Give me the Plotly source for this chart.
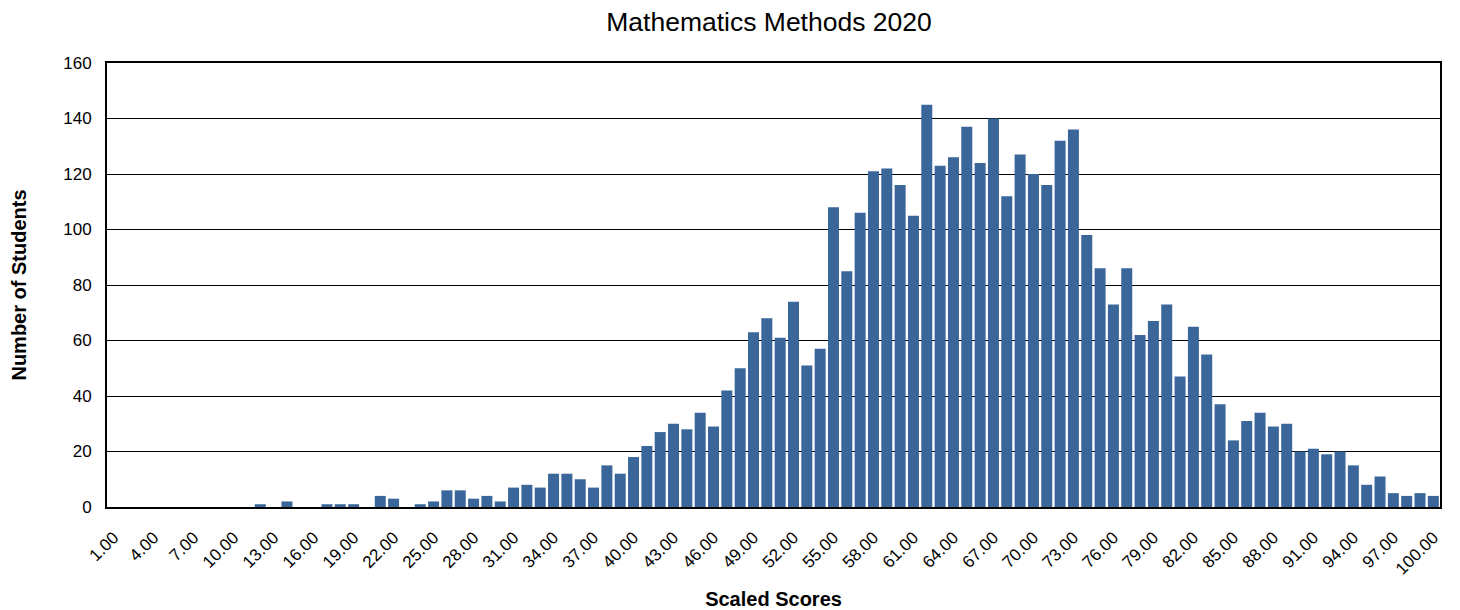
import plotly.graph_objects as go

scores = list(range(1, 101))
students = [
    0, 0, 0, 0, 0, 0, 0, 0, 0, 0,
    0, 1, 0, 2, 0, 0, 1, 1, 1, 0,
    4, 3, 0, 1, 2, 6, 6, 3, 4, 2,
    7, 8, 7, 12, 12, 10, 7, 15, 12, 18,
    22, 27, 30, 28, 34, 29, 42, 50, 63, 68,
    61, 74, 51, 57, 108, 85, 106, 121, 122, 116,
    105, 145, 123, 126, 137, 124, 140, 112, 127, 120,
    116, 132, 136, 98, 86, 73, 86, 62, 67, 73,
    47, 65, 55, 37, 24, 31, 34, 29, 30, 20,
    21, 19, 20, 15, 8, 11, 5, 4, 5, 4,
]
tick_scores = [1, 4, 7, 10, 13, 16, 19, 22, 25, 28, 31, 34, 37, 40, 43, 46, 49,
               52, 55, 58, 61, 64, 67, 70, 73, 76, 79, 82, 85, 88, 91, 94, 97, 100]
tick_labels = [f"{v:.2f}" for v in tick_scores]
y_ticks = [0, 20, 40, 60, 80, 100, 120, 140, 160]

FONT = "Liberation Sans, Arial, sans-serif"

fig = go.Figure(
    go.Bar(
        x=scores,
        y=students,
        marker=dict(color="#3a6699", line=dict(width=0)),
    )
)

# page body has an 8px margin, so the figure is 8px smaller and shifted
fig.update_layout(
    width=1452,
    height=602,
    margin=dict(l=99, r=20, t=55, b=103, autoexpand=False),
    paper_bgcolor="white",
    plot_bgcolor="white",
    bargap=0.175,
    showlegend=False,
    font=dict(family=FONT, color="#000000"),
    title=dict(
        text="Mathematics Methods 2020",
        x=(769 - 8) / 1452, xanchor="center",
        y=1 - 4 / 602, yref="container", yanchor="top",
        pad=dict(t=0, b=0),
        font=dict(size=26.5, family=FONT, color="#000000"),
    ),
)

fig.update_xaxes(
    range=[0.5, 100.5],
    tickmode="array",
    tickvals=tick_scores,
    ticktext=tick_labels,
    tickangle=-45,
    tickfont=dict(size=17, family=FONT, color="#000000"),
    showgrid=False,
    zeroline=False,
    showline=True,
    linecolor="#000000",
    linewidth=2,
    mirror=True,
    ticks="",
    automargin=False,
    ticklabelstandoff=12,
    title=dict(
        text="<b>Scaled Scores</b>",
        font=dict(size=20, family=FONT, color="#000000"),
        standoff=18,
    ),
)

fig.update_yaxes(
    range=[0, 160],
    tickmode="array",
    tickvals=y_ticks,
    tickfont=dict(size=17, family=FONT, color="#000000"),
    showgrid=True,
    gridcolor="#000000",
    gridwidth=1,
    zeroline=False,
    showline=True,
    linecolor="#000000",
    linewidth=2,
    mirror=True,
    ticks="",
    automargin=False,
    ticklabelstandoff=10,
    title=dict(
        text="<b>Number of Students</b>",
        font=dict(size=20, family=FONT, color="#000000"),
        standoff=40,
    ),
)

fig.write_html("out.html")
